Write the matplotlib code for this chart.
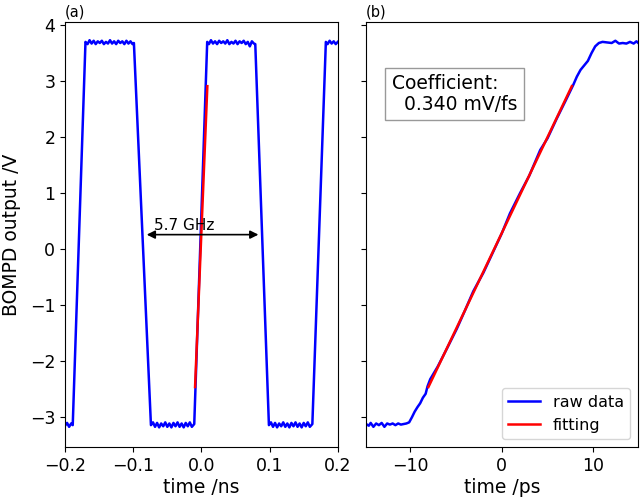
import matplotlib
matplotlib.use('Agg')
import matplotlib.pyplot as plt

# (a) square wave, time in ns, BOMPD output in V
t_ns = [-0.200, -0.197, -0.194, -0.191, -0.1887,
        -0.170, -0.167, -0.164, -0.161, -0.158, -0.155, -0.152, -0.149, -0.146, -0.143,
        -0.140, -0.137, -0.134, -0.131, -0.128, -0.125, -0.122, -0.119, -0.116, -0.113,
        -0.110, -0.107, -0.104, -0.101, -0.099,
        -0.074, -0.071, -0.068, -0.065, -0.062, -0.059, -0.056, -0.053, -0.050, -0.047,
        -0.044, -0.041, -0.038, -0.035, -0.032, -0.029, -0.026, -0.023, -0.020, -0.017,
        -0.014, -0.0105,
        0.0085, 0.011, 0.014, 0.017, 0.020, 0.023, 0.026, 0.029, 0.032, 0.035, 0.038,
        0.041, 0.044, 0.047, 0.050, 0.053, 0.056, 0.059, 0.062, 0.065, 0.068, 0.071,
        0.074, 0.077, 0.079,
        0.099, 0.102, 0.105, 0.108, 0.111, 0.114, 0.117, 0.120, 0.123, 0.126, 0.129,
        0.132, 0.135, 0.138, 0.141, 0.144, 0.147, 0.150, 0.153, 0.156, 0.159, 0.1627,
        0.1825, 0.185, 0.188, 0.191, 0.194, 0.197, 0.200]
v_ns = [-3.15, -3.10, -3.17, -3.11, -3.14,
        3.70, 3.66, 3.73, 3.67, 3.72, 3.66, 3.71, 3.68, 3.72, 3.66,
        3.70, 3.67, 3.73, 3.67, 3.71, 3.66, 3.72, 3.68, 3.71, 3.66,
        3.72, 3.67, 3.71, 3.66, 3.68,
        -3.14, -3.09, -3.17, -3.10, -3.18, -3.11, -3.16, -3.09, -3.17, -3.11,
        -3.18, -3.10, -3.16, -3.09, -3.17, -3.11, -3.18, -3.10, -3.16, -3.09,
        -3.17, -3.12,
        3.70, 3.66, 3.73, 3.67, 3.71, 3.66, 3.72, 3.68, 3.71, 3.67, 3.73,
        3.66, 3.70, 3.67, 3.72, 3.66, 3.71, 3.68, 3.72, 3.66, 3.70, 3.62,
        3.71, 3.67, 3.66,
        -3.14, -3.09, -3.17, -3.10, -3.18, -3.11, -3.16, -3.09, -3.17, -3.11, -3.18,
        -3.10, -3.16, -3.09, -3.17, -3.11, -3.18, -3.10, -3.16, -3.09, -3.17, -3.12,
        3.70, 3.66, 3.72, 3.67, 3.71, 3.66, 3.70]
fit_ns_x = [-0.0093, 0.0087]
fit_ns_y = [-2.46, 2.91]

# (b) rising edge, time in ps
t_ps = [-14.8, -14.5, -14.3, -14.0, -13.7, -13.4, -13.1, -12.8, -12.5, -12.2,
        -11.9, -11.6, -11.3, -11.0, -10.7, -10.4, -10.1,
        -9.8, -9.5, -9.2, -8.9, -8.6, -8.3, -8.1, -7.8,
        -7.0, -6.0, -4.9, -4.0, -3.1, -2.0, -1.0, 0.0, 0.9, 2.0, 3.0, 4.2, 5.0, 6.0, 7.0, 7.8,
        8.2, 8.6, 9.0, 9.4, 9.8, 10.2, 10.6, 11.0, 11.5, 12.0, 12.4, 12.8, 13.2, 13.6,
        14.0, 14.4, 14.7, 14.9]
v_ps = [-3.12, -3.15, -3.10, -3.17, -3.11, -3.14, -3.10, -3.17, -3.11, -3.13,
        -3.11, -3.14, -3.11, -3.13, -3.12, -3.11, -3.09,
        -3.00, -2.90, -2.82, -2.75, -2.65, -2.58, -2.45, -2.32,
        -2.10, -1.78, -1.42, -1.09, -0.75, -0.42, -0.07, 0.28, 0.64, 1.00, 1.31, 1.77, 1.98, 2.33, 2.66, 2.93,
        3.08, 3.20, 3.28, 3.36, 3.50, 3.62, 3.68, 3.70, 3.69, 3.68, 3.72, 3.67, 3.68, 3.67,
        3.70, 3.67, 3.71, 3.68]
fit_ps_x = [-8.0, 7.65]
fit_ps_y = [-2.46, 2.91]

fig = plt.figure(figsize=(6.4, 4.99), dpi=100)
ax1 = fig.add_axes([0.1016, 0.1042, 0.4262, 0.8523])
ax2 = fig.add_axes([0.5720, 0.1042, 0.4253, 0.8523], sharey=ax1)

ax1.plot(t_ns, v_ns, color='b', lw=1.8)
ax1.plot(fit_ns_x, fit_ns_y, color='r', lw=1.8)
ax1.annotate('', xy=(-0.0802, 0.26), xytext=(0.0836, 0.26),
             arrowprops=dict(arrowstyle='<|-|>', color='k', lw=1.2,
                             shrinkA=0, shrinkB=0, mutation_scale=12))
ax1.text(-0.0695, 0.34, '5.7 GHz', fontsize=11)
ax1.set_xlim(-0.2, 0.2)
ax1.set_ylim(-3.53, 4.06)
ax1.set_xticks([-0.2, -0.1, 0.0, 0.1, 0.2])
ax1.set_xlabel('time /ns', fontsize=13.5, labelpad=2)
ax1.set_ylabel('BOMPD output /V', fontsize=13.5)
ax1.yaxis.set_label_coords(-0.163, 0.5)
ax1.tick_params(labelsize=12.5)
ax1.text(0.0, 1.012, '(a)', transform=ax1.transAxes, fontsize=10.5)

ax2.plot(t_ps, v_ps, color='b', lw=1.8, label='raw data')
ax2.plot(fit_ps_x, fit_ps_y, color='r', lw=1.8, label='fitting')
ax2.set_xlim(-14.8, 14.9)
ax2.set_xlabel('time /ps', fontsize=13.5, labelpad=2)
ax2.tick_params(labelsize=12.5)
ax2.tick_params(axis='y', labelleft=False)
ax2.text(0.0, 1.012, '(b)', transform=ax2.transAxes, fontsize=10.5)
ax2.text(0.095, 0.83, 'Coefficient:\n  0.340 mV/fs', transform=ax2.transAxes,
         fontsize=13.5, va='center', linespacing=1.1,
         bbox=dict(boxstyle='square,pad=0.35', fc='white', ec='0.6'))
ax2.legend(loc='lower right', fontsize=11.5)

fig.savefig('out.png', dpi=100)
